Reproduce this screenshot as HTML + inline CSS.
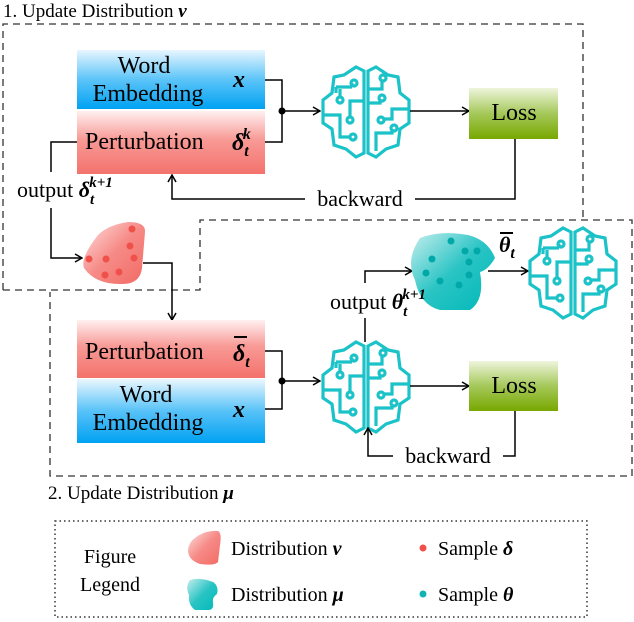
<!DOCTYPE html>
<html><head><meta charset="utf-8"><style>
html,body{margin:0;padding:0;background:#fff;}
svg{display:block;}
svg text{font-family:"Liberation Serif",serif;}
</style></head><body>
<svg width="634" height="622" viewBox="0 0 634 622" xmlns="http://www.w3.org/2000/svg" font-family="Liberation Serif, serif">
<defs>
<linearGradient id="blue" x1="0" y1="0" x2="0" y2="1"><stop offset="0" stop-color="#e8f6ff"/><stop offset="0.5" stop-color="#5cc4f8"/><stop offset="1" stop-color="#00a2f2"/></linearGradient>
<linearGradient id="blueU" x1="0" y1="0" x2="0" y2="1"><stop offset="0" stop-color="#eaf7ff"/><stop offset="0.5" stop-color="#58c2f8"/><stop offset="1" stop-color="#00a2f2"/></linearGradient>
<linearGradient id="red" x1="0" y1="0" x2="0" y2="1"><stop offset="0" stop-color="#fff0f0"/><stop offset="0.45" stop-color="#f89a96"/><stop offset="1" stop-color="#f4726c"/></linearGradient>
<linearGradient id="green" x1="0" y1="0" x2="0" y2="1"><stop offset="0" stop-color="#eef5dc"/><stop offset="0.5" stop-color="#a5c85a"/><stop offset="1" stop-color="#78a800"/></linearGradient>
<linearGradient id="rblob" x1="0" y1="0" x2="1" y2="1"><stop offset="0" stop-color="#fde0e0"/><stop offset="0.5" stop-color="#f68a86"/><stop offset="1" stop-color="#f26a64"/></linearGradient>
<linearGradient id="tblob" x1="0" y1="0" x2="1" y2="1"><stop offset="0" stop-color="#c6eeee"/><stop offset="0.5" stop-color="#2ac4c4"/><stop offset="1" stop-color="#00b8b8"/></linearGradient>
<marker id="ar" markerWidth="10" markerHeight="10" refX="9" refY="5" orient="auto" markerUnits="userSpaceOnUse"><path d="M2,1 L9,5 L2,9" fill="none" stroke="#000" stroke-width="1.5"/></marker>
<g id="brain" fill="none" stroke="#1bc2c8" stroke-width="3.2" stroke-linejoin="miter">
<path d="M42,4 L34,0 L22,8 L12,10 L10,26 L1,33 L1,56 L10,62 L12,78 L24,82 L34,90 L42,86 Z"/>
<path d="M46,4 L54,0 L66,8 L76,10 L78,26 L87,33 L87,56 L78,62 L76,78 L64,82 L54,90 L46,86 Z"/>
<path d="M14,20 L14,26 M14,20 L30,20 M30,20 L30,16"/>
<circle cx="32" cy="16" r="3"/><circle cx="18" cy="33" r="3"/>
<path d="M18,30 L18,22"/>
<path d="M1,48 L18,48 L18,70 L28,70"/><circle cx="31" cy="70" r="3"/>
<path d="M42,34 L28,34 L28,50"/><circle cx="28" cy="53" r="3"/>
<path d="M46,22 L60,22 L60,14"/><circle cx="61" cy="11" r="3"/>
<path d="M46,36 L58,36 L58,34"/><circle cx="60" cy="31" r="3"/>
<path d="M87,42 L70,42 L70,52 L62,52"/><circle cx="59" cy="53" r="3"/>
<path d="M54,84 L54,66 L70,66 L70,62"/><circle cx="72" cy="61" r="3"/>
</g>
</defs>

<path d="M3,290 L3,24 L583,24 L583,218" fill="none" stroke="#333" stroke-width="1.3" stroke-dasharray="7,5"/>
<path d="M3,290 L200,290 L200,220 L632,220 L632,476 L50,476 L50,292" fill="none" stroke="#333" stroke-width="1.3" stroke-dasharray="7,5"/>

<text x="3" y="17" font-size="19">1. Update Distribution <tspan font-weight="bold" font-style="italic">ν</tspan></text>
<text x="48" y="499" font-size="19">2. Update Distribution <tspan font-weight="bold" font-style="italic">μ</tspan></text>

<rect x="77" y="50" width="188" height="59" fill="url(#blue)"/>
<rect x="77" y="111" width="188" height="63" fill="url(#red)"/>
<text x="144" y="73" font-size="24" text-anchor="middle">Word</text>
<text x="148" y="101" font-size="24" text-anchor="middle">Embedding</text>
<text x="233" y="87" font-size="24" font-weight="bold" font-style="italic">x</text>
<text x="85" y="149" font-size="24">Perturbation</text>
<text x="232" y="150" font-size="24" font-weight="bold" font-style="italic">δ<tspan font-size="16" dy="6">t</tspan><tspan font-size="16" dx="-6" dy="-17">k</tspan></text>

<path d="M265,80 L282,80 L282,142 L265,142" fill="none" stroke="#000" stroke-width="1.5"/>
<circle cx="282" cy="111" r="3.5"/>
<path d="M282,111 L320,111" stroke="#000" stroke-width="1.5" marker-end="url(#ar)"/>
<use href="#brain" x="322" y="67"/>
<path d="M410,111 L469,111" stroke="#000" stroke-width="1.5" marker-end="url(#ar)"/>
<rect x="469" y="88" width="89" height="51" fill="url(#green)"/>
<text x="514" y="120" font-size="24" text-anchor="middle">Loss</text>
<path d="M515,139 L515,199 L415,199 M305,199 L172,199 L172,175" fill="none" stroke="#000" stroke-width="1.5" marker-end="url(#ar)"/>
<text x="360" y="206" font-size="22" text-anchor="middle">backward</text>

<path d="M77,142 L51,142 L51,172" fill="none" stroke="#000" stroke-width="1.5"/>
<text x="17" y="197" font-size="22">output <tspan font-weight="bold" font-style="italic" font-size="22">δ</tspan><tspan font-size="15" font-weight="bold" font-style="italic" dy="7">t</tspan><tspan font-size="15" font-weight="bold" font-style="italic" dx="-5" dy="-17">k+1</tspan></text>
<path d="M51,208 L51,258 L82,258" fill="none" stroke="#000" stroke-width="1.5" marker-end="url(#ar)"/>
<path d="M98,235 Q108,225 128,222 Q146,222 145,232 L142,268 Q140,285 120,284 Q95,284 84,268 Q80,258 98,235 Z" fill="url(#rblob)"/>
<g fill="#f0504a"><circle cx="132" cy="229" r="3.5"/><circle cx="130" cy="246" r="3.5"/><circle cx="134" cy="258" r="3.5"/><circle cx="89" cy="259" r="3.5"/><circle cx="106" cy="259" r="3.5"/><circle cx="105" cy="275" r="3.5"/><circle cx="119" cy="272" r="3.5"/></g>
<path d="M143,263 L172,263 L172,320" fill="none" stroke="#000" stroke-width="1.5" marker-end="url(#ar)"/>

<rect x="77" y="320" width="188" height="58" fill="url(#red)"/>
<rect x="77" y="379" width="188" height="64" fill="url(#blueU)"/>
<text x="85" y="359" font-size="24">Perturbation</text>
<text x="233" y="361" font-size="24" font-weight="bold" font-style="italic">δ<tspan font-size="16" dy="6">t</tspan></text>
<path d="M234,337 L247,337" stroke="#000" stroke-width="2"/>
<text x="146" y="402" font-size="24" text-anchor="middle">Word</text>
<text x="148" y="430" font-size="24" text-anchor="middle">Embedding</text>
<text x="233" y="417" font-size="24" font-weight="bold" font-style="italic">x</text>

<path d="M265,351 L282,351 L282,409 L265,409" fill="none" stroke="#000" stroke-width="1.5"/>
<circle cx="282" cy="381" r="3.5"/>
<path d="M282,381 L320,381" stroke="#000" stroke-width="1.5" marker-end="url(#ar)"/>
<use href="#brain" x="322" y="342"/>
<path d="M410,386 L469,386" stroke="#000" stroke-width="1.5" marker-end="url(#ar)"/>
<rect x="469" y="361" width="89" height="50" fill="url(#green)"/>
<text x="514" y="393" font-size="24" text-anchor="middle">Loss</text>
<path d="M515,411 L515,456 L503,456 M393,456 L368,456 L368,428" fill="none" stroke="#000" stroke-width="1.5" marker-end="url(#ar)"/>
<text x="448" y="463" font-size="22" text-anchor="middle">backward</text>

<path d="M365,342 L365,318 M365,283 L365,271 L412,271" fill="none" stroke="#000" stroke-width="1.5" marker-end="url(#ar)"/>
<path d="M420,238 Q440,230 468,235 Q488,240 495,258 Q488,270 480,272 Q485,300 470,310 L440,310 Q420,305 415,280 Q405,260 420,238 Z" fill="url(#tblob)"/>
<g fill="#00a8a8"><circle cx="451" cy="241" r="3.5"/><circle cx="465" cy="251" r="3.5"/><circle cx="477" cy="251" r="3.5"/><circle cx="432" cy="259" r="3.5"/><circle cx="469" cy="262" r="3.5"/><circle cx="426" cy="273" r="3.5"/><circle cx="469" cy="275" r="3.5"/><circle cx="440" cy="281" r="3.5"/><circle cx="459" cy="285" r="3.5"/></g>
<text x="330" y="309" font-size="22">output <tspan font-weight="bold" font-style="italic">θ</tspan><tspan font-size="15" font-weight="bold" font-style="italic" dy="7">t</tspan><tspan font-size="15" font-weight="bold" font-style="italic" dx="-5" dy="-17">k+1</tspan></text>
<path d="M488,271 L528,271" stroke="#000" stroke-width="1.5" marker-end="url(#ar)"/>
<use href="#brain" x="529" y="228"/>
<text x="499" y="252" font-size="22" font-weight="bold" font-style="italic">θ<tspan font-size="16" dy="6">t</tspan></text>
<path d="M500,233 L513,233" stroke="#000" stroke-width="2"/>

<rect x="55" y="521" width="532" height="96" fill="none" stroke="#333" stroke-width="1.5" stroke-dasharray="1.5,3"/>
<text x="110" y="563" font-size="20" text-anchor="middle">Figure</text>
<text x="110" y="591" font-size="20" text-anchor="middle">Legend</text>
<path d="M195,538 Q205,530 218,531 Q222,533 220,545 L218,562 Q215,566 200,564 Q188,560 188,550 Q189,542 195,538 Z" fill="url(#rblob)"/>
<text x="231" y="555" font-size="20">Distribution <tspan font-weight="bold" font-style="italic">ν</tspan></text>
<path d="M190,580 Q200,577 213,582 Q219,586 217,594 Q212,597 213,603 Q214,610 208,610 L195,610 Q188,605 189,595 Q185,586 190,580 Z" fill="url(#tblob)"/>
<text x="231" y="601" font-size="20">Distribution <tspan font-weight="bold" font-style="italic">μ</tspan></text>
<circle cx="423" cy="548" r="3.5" fill="#f0504a"/>
<text x="438" y="555" font-size="20">Sample <tspan font-weight="bold" font-style="italic">δ</tspan></text>
<circle cx="423" cy="594" r="3.5" fill="#10b4b4"/>
<text x="438" y="601" font-size="20">Sample <tspan font-weight="bold" font-style="italic">θ</tspan></text>
</svg>
</body></html>
